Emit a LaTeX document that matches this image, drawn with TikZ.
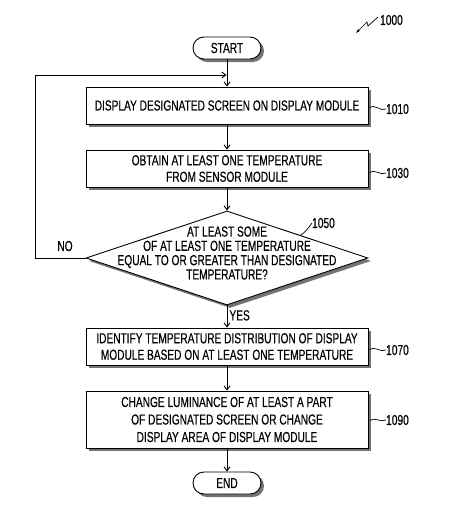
\documentclass[tikz,border=0pt]{standalone}
\usepackage{fontspec}
\setmainfont[FakeStretch=0.7,FakeBold=0.3]{Liberation Sans}
\usetikzlibrary{arrows.meta,shapes.geometric,shadows,calc}
\begin{document}
\begin{tikzpicture}[x=1pt,y=-1pt,
  every node/.style={font=\fontsize{14.5}{16.5}\selectfont},
  shad/.style={drop shadow={shadow xshift=3pt,shadow yshift=-3pt,fill=black!55,opacity=1}},
  procbox/.style={draw,fill=white,line width=0.9pt,minimum width=282pt,minimum height=37pt,align=center,inner sep=0pt,shad},
  termbox/.style={draw,fill=white,line width=0.9pt,rounded corners=11pt,minimum width=68pt,minimum height=22pt,inner sep=0pt,shad},
  arr/.style={line width=0.9pt,-{Straight Barb[length=4pt,width=6pt]}},
  lbl/.style={inner sep=0pt,anchor=west},
  lead/.style={line width=0.7pt},
]
\useasboundingbox (0,0) rectangle (463,514);

\node[termbox] (start) at (227,48) {START};
\node[procbox] (b1010) at (227,105.5) {DISPLAY DESIGNATED SCREEN ON DISPLAY MODULE};
\node[procbox] (b1030) at (227,168.5) {OBTAIN AT LEAST ONE TEMPERATURE\\FROM SENSOR MODULE};
\node[diamond,draw,fill=white,line width=0.9pt,minimum width=282pt,minimum height=94pt,inner sep=0pt,shad] (d1050) at (227,258) {};
\node[align=center,inner sep=0pt,font=\fontsize{14.5}{14.3}\selectfont] (t1050) at (227,253) {AT LEAST SOME\\OF AT LEAST ONE TEMPERATURE\\EQUAL TO OR GREATER THAN DESIGNATED\\TEMPERATURE?};
\node[procbox] (b1070) at (227,346.5) {IDENTIFY TEMPERATURE DISTRIBUTION OF DISPLAY\\MODULE BASED ON AT LEAST ONE TEMPERATURE};
\node[procbox,minimum height=57pt,font=\fontsize{14.5}{17.5}\selectfont] (b1090) at (227,419.5) {CHANGE LUMINANCE OF AT LEAST A PART\\OF DESIGNATED SCREEN OR CHANGE\\DISPLAY AREA OF DISPLAY MODULE};
\node[termbox] (end) at (227,483) {END};

\draw[arr] (start) -- (b1010);
\draw[arr] (b1010) -- (b1030);
\draw[arr] (b1030) -- (d1050);
\draw[arr] (d1050) -- node[pos=0.45,anchor=west,inner sep=0pt,xshift=2pt] (yes) {YES} (b1070);
\draw[arr] (b1070) -- (b1090);
\draw[arr] (b1090) -- (end);

\coordinate (lc) at (35,75);
\coordinate (loopin) at (226.5,75);
\draw[arr] (d1050.west) -| (lc) -- (loopin);
\node (no) at (65,246) {NO};

\node[lbl] (l1010) at (386,109) {1010};
\node[lbl] (l1030) at (386,173) {1030};
\node[lbl] (l1070) at (386,350) {1070};
\node[lbl] (l1090) at (386,420) {1090};
\node[lbl] (l1050) at (312,223) {1050};
\node[lbl] (l1000) at (380,20) {1000};

\draw[lead] ($(b1010.east)+(1,2)$) .. controls +(5,-4) and +(-5,3) .. (l1010.west);
\draw[lead] ($(b1030.east)+(1,4)$) .. controls +(5,-4) and +(-5,3) .. (l1030.west);
\draw[lead] ($(b1070.east)+(1,3)$) .. controls +(5,-4) and +(-5,3) .. (l1070.west);
\draw[lead] ($(b1090.east)+(1,1)$) .. controls +(5,-4) and +(-5,3) .. (l1090.west);
\coordinate (d1050e) at ($(d1050.north)!0.52!(d1050.east)$);
\draw[lead] (d1050e) .. controls +(5,-3) and +(-3,4) .. (l1050.west);
\coordinate (z1) at (378,17);
\coordinate (z2) at (368,26);
\coordinate (z3) at (367,22);
\coordinate (z4) at (356,33);
\draw[lead,-{Stealth[length=5pt,width=3pt]}] (z1) -- (z2) -- (z3) -- (z4);
\end{tikzpicture}
\end{document}
